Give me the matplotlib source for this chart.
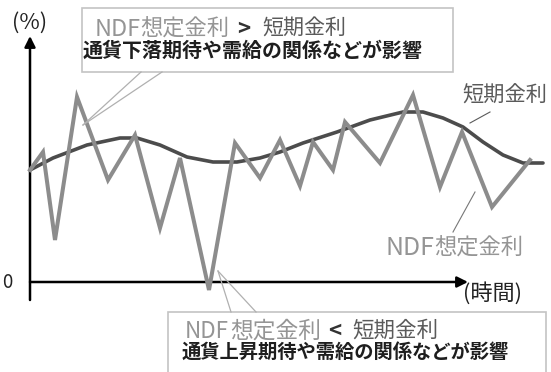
import matplotlib
matplotlib.use("Agg")
import matplotlib.pyplot as plt
from matplotlib.patches import Rectangle
from matplotlib.lines import Line2D

plt.rcParams['font.family'] = ['Noto Sans CJK JP', 'DejaVu Sans']

# ---- data (schematic) ----
ndf_time = [0, 2.6, 5, 9.4, 15.6, 21, 26, 30, 35.8, 41, 46, 50, 54, 56.6, 60.6, 63, 70, 76.6, 82, 86.4, 92.4, 100]
ndf_rate = [56, 65, 21, 92.5, 51, 73.5, 27, 62, -4, 69.5, 52, 71, 48, 70, 56, 80, 59.5, 93.5, 47.5, 75, 37.5, 61]

short_time = [0, 4.6, 11.4, 18, 21.4, 26, 31.4, 36.6, 41.4, 46, 50, 54.6, 61.4, 68, 74.6, 78.6, 82.6, 86.6, 90.6, 94.6, 98.6, 102.6]
short_rate = [56, 62, 68.5, 72, 72, 68.5, 62.5, 60, 60, 62, 65, 69.5, 75, 81, 85, 85, 82, 77.5, 70, 63.5, 59.5, 59.5]

label_short = "短期金利"
label_ndf_a = "NDF"
label_ndf_b = "想定金利"
y_label = "(%)"
x_label = "(時間)"
zero_label = "0"
top_line2 = "通貨下落期待や需給の関係などが影響"
bot_line2 = "通貨上昇期待や需給の関係などが影響"

W, H = 551, 372
fig = plt.figure(figsize=(W / 100, H / 100), dpi=100)
fig.patch.set_facecolor("white")
ax = fig.add_axes([0, 0, 1, 1])
ax.set_xlim(-6, 104.2)
ax.set_ylim(-45, 141)
ax.axis("off")

NDF_C = "#8c8c8c"
SHORT_C = "#4c4c4c"
TXT_LIGHT = "#959595"
TXT_DARK = "#5a5a5a"


def P(x, y):
    return (x / W, 1 - y / H)


tf = fig.transFigure

# axes arrows
ax.annotate("", xy=P(30, 36), xytext=P(30, 300), xycoords=tf, textcoords=tf,
            arrowprops=dict(arrowstyle="-|>", lw=1.8, color="black", mutation_scale=16,
                            shrinkA=0, shrinkB=0))
ax.annotate("", xy=P(468, 282), xytext=P(30, 282), xycoords=tf, textcoords=tf,
            arrowprops=dict(arrowstyle="-|>", lw=1.8, color="black", mutation_scale=16,
                            shrinkA=0, shrinkB=0))

# series
ax.plot(short_time, short_rate, color=SHORT_C, lw=2.6, solid_joinstyle="round",
        solid_capstyle="round", zorder=3)
ax.plot(ndf_time, ndf_rate, color=NDF_C, lw=2.9, solid_joinstyle="miter", zorder=4)

# leaders
fig.add_artist(Line2D([490 / W, 470 / W], [1 - 112 / H, 1 - 123 / H], transform=tf,
                      color=TXT_DARK, lw=0.8, zorder=6))
fig.add_artist(Line2D([475 / W, 453 / W], [1 - 192 / H, 1 - 232 / H], transform=tf,
                      color="#777777", lw=0.8, zorder=6))

# boxes
BOX_EC = "#c4c4c4"
fig.add_artist(Rectangle(P(82, 72), (453 - 82) / W, (72 - 8) / H, transform=tf,
                         facecolor="white", edgecolor=BOX_EC, lw=1.2, zorder=5))
fig.add_artist(Rectangle(P(168, 380), (546 - 168) / W, (380 - 312) / H, transform=tf,
                         facecolor="white", edgecolor=BOX_EC, lw=1.2, zorder=5))

# callouts
for (bx, by) in [(141, 72), (162, 72)]:
    fig.add_artist(Line2D([bx / W, 83 / W], [1 - by / H, 1 - 125 / H], transform=tf,
                          color="#b0b0b0", lw=0.9, zorder=7))
for (bx, by) in [(231, 312), (256, 312)]:
    fig.add_artist(Line2D([bx / W, 218 / W], [1 - by / H, 1 - 271 / H], transform=tf,
                          color="#b0b0b0", lw=0.9, zorder=7))

fig.canvas.draw()
renderer = fig.canvas.get_renderer()


def fit(s, x0, x1, y, color, weight="normal"):
    """place text s so it spans pixel x0..x1, vertically centred at y"""
    t = fig.text(*P(x0, y), s, fontsize=10, ha="left", va="center", color=color,
                 weight=weight, zorder=8)
    w = t.get_window_extent(renderer).width
    t.set_fontsize(10 * (x1 - x0) / w)
    return t


def centre(s, x, y, size, color, weight="normal"):
    return fig.text(*P(x, y), s, fontsize=size, ha="center", va="center", color=color,
                    weight=weight, zorder=8)


# axis texts
fit(y_label, 12, 47, 23, "#222222")
centre(zero_label, 7, 283, 13.5, "#222222")
fit(x_label, 463, 522, 293, "#222222")

# series labels
fit(label_short, 462, 547, 96, TXT_DARK)
fit(label_ndf_a, 385, 434, 248, TXT_LIGHT)
fit(label_ndf_b, 434, 523, 248, TXT_LIGHT)

# top box
fit(label_ndf_a, 95, 141, 29, TXT_LIGHT)
fit(label_ndf_b, 140, 229, 29, TXT_LIGHT)
centre(">", 243.5, 29, 16, "#333333", "bold")
fit(label_short, 262, 346, 29, TXT_DARK)
fit(top_line2, 83, 422, 50, "#1e1e1e", "bold")

# bottom box
fit(label_ndf_a, 185, 229, 331, TXT_LIGHT)
fit(label_ndf_b, 230, 321, 331, TXT_LIGHT)
centre("<", 335, 331, 16, "#333333", "bold")
fit(label_short, 352, 438, 331, TXT_DARK)
fit(bot_line2, 182, 510, 352, "#1e1e1e", "bold")

fig.savefig("out.png", dpi=100, facecolor="white")
